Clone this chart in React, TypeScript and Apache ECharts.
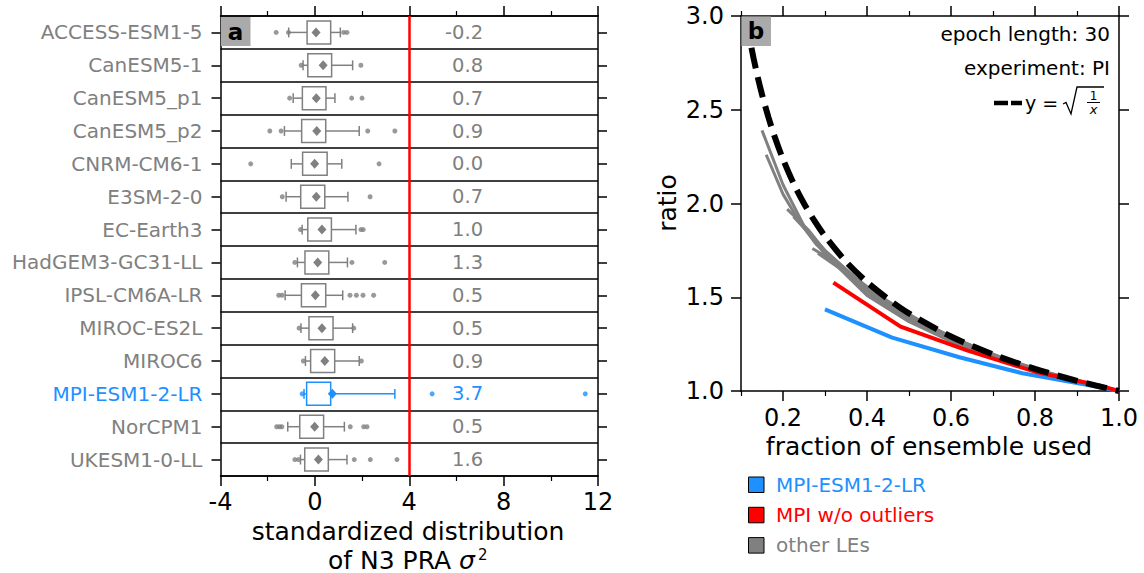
import React, { useEffect, useRef } from 'react';
import * as echarts from 'echarts';

// ---------- Panel a data ----------
const models = [
  'ACCESS-ESM1-5', 'CanESM5-1', 'CanESM5_p1', 'CanESM5_p2', 'CNRM-CM6-1', 'E3SM-2-0', 'EC-Earth3',
  'HadGEM3-GC31-LL', 'IPSL-CM6A-LR', 'MIROC-ES2L', 'MIROC6', 'MPI-ESM1-2-LR', 'NorCPM1', 'UKESM1-0-LL',
];
const highlightModel = 'MPI-ESM1-2-LR';
const whiskerLow = [-1.11, -0.5, -0.92, -1.29, -1.0, -1.22, -0.54, -0.74, -1.26, -0.59, -0.4, -0.46, -1.15, -0.61];
const q1 = [-0.33, -0.3, -0.53, -0.56, -0.52, -0.6, -0.3, -0.42, -0.57, -0.25, -0.18, -0.35, -0.64, -0.43];
const means = [0.05, 0.35, 0.06, 0.08, -0.01, 0.06, 0.3, 0.12, 0.02, 0.3, 0.42, 0.74, -0.01, 0.15];
const q3 = [0.67, 0.71, 0.47, 0.46, 0.52, 0.42, 0.7, 0.59, 0.46, 0.77, 0.84, 0.67, 0.37, 0.57];
const whiskerHigh = [1.08, 1.6, 0.85, 1.88, 1.14, 1.4, 1.74, 1.38, 1.18, 1.6, 1.88, 3.39, 1.25, 1.36];
const outliers: number[][] = [
  [-1.64, -1.12, 1.22, 1.36],
  [-0.58, 1.95],
  [-1.07, 1.56, 2.0],
  [-1.91, -1.43, 2.24, 3.39],
  [-2.72, 2.72],
  [-1.38, 2.34],
  [-0.61, 1.95, 2.05],
  [-0.85, 1.57, 2.96],
  [-1.53, -1.39, 1.49, 1.76, 2.04, 2.49],
  [-0.67, 1.65],
  [-0.49, 1.97],
  [-0.54, 4.97, 11.46],
  [-1.62, -1.5, -1.4, 1.5, 2.07, 2.21],
  [-0.85, -0.7, 1.67, 2.35, 3.48],
];
const skill = [-0.2, 0.8, 0.7, 0.9, 0.0, 0.7, 1.0, 1.3, 0.5, 0.5, 0.9, 3.7, 0.5, 1.6];
const thresholdValue = 4;
const xTicksA = { min: -4, max: 12, interval: 4 };

// ---------- Panel b data ----------
const fracMPI = [0.3, 0.46, 0.62, 0.77, 0.92, 1.0];
const ratioMPI = [1.435, 1.285, 1.18, 1.095, 1.035, 1.0];
const fracMPInoOut = [0.32, 0.48, 0.64, 0.8, 0.96, 1.0];
const ratioMPInoOut = [1.578, 1.343, 1.215, 1.103, 1.025, 1.0];
const fracOther: number[][] = [
  [0.15, 0.2, 0.25, 0.3, 0.4, 0.5, 0.6, 0.7, 0.8, 0.9, 1.0],
  [0.16, 0.2, 0.24, 0.28, 0.36, 0.44, 0.52, 0.64, 0.76, 0.88, 1.0],
  [0.21, 0.26, 0.32, 0.42, 0.53, 0.63, 0.74, 0.84, 0.95, 1.0],
  [0.225, 0.3, 0.375, 0.45, 0.525, 0.6, 0.7, 0.8, 0.9, 1.0],
  [0.283, 0.35, 0.43, 0.5, 0.57, 0.71, 0.86, 1.0],
  [0.385, 0.46, 0.54, 0.62, 0.69, 0.77, 0.85, 0.92, 1.0],
  [0.27, 0.33, 0.4, 0.47, 0.53, 0.6, 0.67, 0.73, 0.8, 0.87, 0.93, 1.0],
];
const ratioOther: number[][] = [
  [2.39, 2.1, 1.88, 1.73, 1.51, 1.37, 1.265, 1.18, 1.11, 1.05, 1.0],
  [2.26, 2.05, 1.9, 1.78, 1.6, 1.46, 1.36, 1.24, 1.14, 1.07, 1.0],
  [1.97, 1.86, 1.69, 1.5, 1.36, 1.26, 1.16, 1.09, 1.03, 1.0],
  [1.93, 1.75, 1.6, 1.47, 1.37, 1.28, 1.19, 1.11, 1.05, 1.0],
  [1.735, 1.63, 1.5, 1.4, 1.32, 1.18, 1.07, 1.0],
  [1.54, 1.45, 1.35, 1.26, 1.2, 1.13, 1.08, 1.04, 1.0],
  [1.76, 1.68, 1.55, 1.45, 1.37, 1.29, 1.22, 1.17, 1.12, 1.07, 1.03, 1.0],
];
const fracRef = [0.112, 0.12, 0.13, 0.14, 0.15, 0.165, 0.18, 0.2, 0.225, 0.25, 0.275, 0.3, 0.35, 0.4, 0.45, 0.5, 0.6, 0.7, 0.8, 0.9, 1.0];
const ratioRef = [2.988, 2.887, 2.774, 2.673, 2.582, 2.462, 2.357, 2.236, 2.108, 2.0, 1.907, 1.826, 1.69, 1.581, 1.491, 1.414, 1.291, 1.195, 1.118, 1.054, 1.0];
const xMajorB = [0.2, 0.4, 0.6, 0.8, 1.0];
const xMinorB = [0.1, 0.3, 0.5, 0.7, 0.9];
const legendLabels = ['MPI-ESM1-2-LR', 'MPI w/o outliers', 'other LEs'];

// ---------- style ----------
const FONT = 'DejaVu Sans';
const GRAY = '#808080';
const BLUE = '#1e90ff';
const RED = '#ff0000';
const BLACK = '#000000';
const valueTextX = 7.13;

const axLine = { show: true, onZero: false, lineStyle: { color: BLACK, width: 1.5 } };
const tickStyle = { color: BLACK, width: 1.5 };

function zip(a: number[], b: number[]) {
  return a.map((v, i) => [v, b[i]]);
}

export default function App() {
  const ref = useRef<HTMLDivElement>(null);
  useEffect(() => {
    if (!ref.current) return;
    const chart = echarts.init(ref.current, null, { renderer: 'svg' });

    const colorOf = (i: number) => (models[i] === highlightModel ? BLUE : GRAY);

    const gridA = { left: 220.5, top: 16, width: 377.5, height: 460 };
    const gridB = { left: 741, top: 16, width: 378, height: 375 };

    const option: any = {
      animation: false,
      backgroundColor: '#ffffff',
      textStyle: { fontFamily: FONT },
      grid: [
        { ...gridA, containLabel: false },
        { ...gridB, containLabel: false },
      ],
      xAxis: [
        {
          gridIndex: 0, type: 'value', position: 'bottom', ...xTicksA,
          axisLine: axLine,
          axisTick: { show: true, length: 10, lineStyle: tickStyle },
          minorTick: { show: true, splitNumber: 2, length: 5, lineStyle: { color: BLACK, width: 1.2 } },
          axisLabel: { color: BLACK, fontSize: 24, fontFamily: FONT, margin: 14 },
          splitLine: { show: false },
        },
        {
          gridIndex: 0, type: 'value', position: 'top', ...xTicksA,
          axisLine: axLine,
          axisTick: { show: true, length: 10, lineStyle: tickStyle },
          minorTick: { show: true, splitNumber: 2, length: 5, lineStyle: { color: BLACK, width: 1.2 } },
          axisLabel: { show: false },
          splitLine: { show: false },
        },
        {
          gridIndex: 1, type: 'value', position: 'bottom', min: 0.1, max: 1.0,
          axisLine: axLine,
          axisTick: { show: true, length: 10, lineStyle: tickStyle, customValues: xMajorB },
          axisLabel: { color: BLACK, fontSize: 24, fontFamily: FONT, margin: 15, customValues: xMajorB, formatter: (v: number) => v.toFixed(1) },
          splitLine: { show: false },
        },
        {
          gridIndex: 1, type: 'value', position: 'top', min: 0.1, max: 1.0,
          axisLine: axLine,
          axisTick: { show: true, length: 10, lineStyle: tickStyle, customValues: xMajorB },
          axisLabel: { show: false },
          splitLine: { show: false },
        },
        {
          gridIndex: 1, type: 'value', position: 'bottom', min: 0.1, max: 1.0,
          axisLine: { show: false },
          axisTick: { show: true, length: 5, lineStyle: { color: BLACK, width: 1.2 }, customValues: xMinorB },
          axisLabel: { show: false },
          splitLine: { show: false },
        },
        {
          gridIndex: 1, type: 'value', position: 'top', min: 0.1, max: 1.0,
          axisLine: { show: false },
          axisTick: { show: true, length: 5, lineStyle: { color: BLACK, width: 1.2 }, customValues: xMinorB },
          axisLabel: { show: false },
          splitLine: { show: false },
        },
      ],
      yAxis: [
        {
          gridIndex: 0, type: 'category', data: models, inverse: true, position: 'left',
          axisLine: axLine,
          axisTick: { show: true, alignWithLabel: true, length: 9, interval: 0, lineStyle: tickStyle },
          axisLabel: {
            interval: 0, margin: 18,
            formatter: (v: string) => (v === highlightModel ? `{hl|${v}}` : `{nm|${v}}`),
            rich: {
              hl: { color: BLUE, fontSize: 20, fontFamily: FONT },
              nm: { color: GRAY, fontSize: 20, fontFamily: FONT },
            },
          },
          splitLine: { show: true, interval: 0, lineStyle: { color: BLACK, width: 1.5 } },
        },
        {
          gridIndex: 0, type: 'category', data: models, inverse: true, position: 'right',
          axisLine: axLine,
          axisTick: { show: true, alignWithLabel: true, length: 9, interval: 0, lineStyle: tickStyle },
          axisLabel: { show: false },
          splitLine: { show: false },
        },
        {
          gridIndex: 1, type: 'value', position: 'left', min: 1, max: 3, interval: 0.5,
          axisLine: axLine,
          axisTick: { show: true, length: 10, lineStyle: tickStyle },
          axisLabel: { color: BLACK, fontSize: 24, fontFamily: FONT, margin: 17, formatter: (v: number) => v.toFixed(1) },
          splitLine: { show: false },
        },
        {
          gridIndex: 1, type: 'value', position: 'right', min: 1, max: 3, interval: 0.5,
          axisLine: axLine,
          axisTick: { show: true, length: 10, lineStyle: tickStyle },
          axisLabel: { show: false },
          splitLine: { show: false },
        },
      ],
      series: [
        // boxes
        {
          type: 'custom', xAxisIndex: 0, yAxisIndex: 0,
          data: models.map((_, i) => [i, whiskerLow[i], q1[i], means[i], q3[i], whiskerHigh[i]]),
          encode: { x: [1, 2, 3, 4, 5], y: 0 },
          renderItem: (params: any, api: any) => {
            const idx = api.value(0);
            const color = colorOf(idx);
            const px = (v: number) => api.coord([v, idx])[0];
            const y = api.coord([0, idx])[1];
            const band = api.size([0, 1])[1];
            const bh = band * 0.7;
            const ch = band * 0.3;
            const xLo = px(api.value(1));
            const xQ1 = px(api.value(2));
            const xM = px(api.value(3));
            const xQ3 = px(api.value(4));
            const xHi = px(api.value(5));
            const st = { stroke: color, lineWidth: 1.5, fill: null };
            return {
              type: 'group',
              children: [
                { type: 'line', shape: { x1: xLo, y1: y, x2: xQ1, y2: y }, style: st },
                { type: 'line', shape: { x1: xQ3, y1: y, x2: xHi, y2: y }, style: st },
                { type: 'line', shape: { x1: xLo, y1: y - ch / 2, x2: xLo, y2: y + ch / 2 }, style: st },
                { type: 'line', shape: { x1: xHi, y1: y - ch / 2, x2: xHi, y2: y + ch / 2 }, style: st },
                { type: 'rect', shape: { x: xQ1, y: y - bh / 2, width: xQ3 - xQ1, height: bh }, style: { stroke: color, lineWidth: 1.5, fill: '#ffffff' } },
                { type: 'polygon', shape: { points: [[xM, y - 5], [xM + 4.5, y], [xM, y + 5], [xM - 4.5, y]] }, style: { fill: color } },
              ],
            };
          },
          z: 2,
        },
        // outliers + threshold line
        {
          type: 'scatter', xAxisIndex: 0, yAxisIndex: 0,
          data: outliers.flatMap((arr, i) => arr.map((v) => [v, i])),
          symbol: 'circle', symbolSize: 5,
          itemStyle: { color: (p: any) => colorOf(p.data[1]) },
          markLine: {
            silent: true, symbol: ['none', 'none'],
            label: { show: false },
            lineStyle: { color: RED, width: 2.5, type: 'solid' },
            data: [{ xAxis: thresholdValue }],
          },
          z: 3,
        },
        // value texts
        {
          type: 'custom', xAxisIndex: 0, yAxisIndex: 0,
          data: models.map((_, i) => [valueTextX, i, skill[i]]),
          encode: { x: 0, y: 1 },
          renderItem: (params: any, api: any) => {
            const idx = api.value(1);
            const p = api.coord([api.value(0), idx]);
            return {
              type: 'text', x: p[0], y: p[1],
              style: {
                text: Number(api.value(2)).toFixed(1), fill: colorOf(idx),
                fontSize: 19.5, fontFamily: FONT, align: 'right', verticalAlign: 'middle',
              },
            };
          },
          z: 3,
        },
        // panel b
        ...fracOther.map((f, k) => ({
          type: 'line', xAxisIndex: 2, yAxisIndex: 2, data: zip(f, ratioOther[k]),
          symbol: 'none', lineStyle: { color: GRAY, width: 3 }, z: 2,
        })),
        {
          type: 'line', xAxisIndex: 2, yAxisIndex: 2, data: zip(fracMPI, ratioMPI),
          symbol: 'none', lineStyle: { color: BLUE, width: 4 }, z: 3,
        },
        {
          type: 'line', xAxisIndex: 2, yAxisIndex: 2, data: zip(fracMPInoOut, ratioMPInoOut),
          symbol: 'none', lineStyle: { color: RED, width: 4 }, z: 4,
        },
        {
          type: 'line', xAxisIndex: 2, yAxisIndex: 2, data: zip(fracRef, ratioRef),
          symbol: 'none', smooth: 0.3, lineStyle: { color: BLACK, width: 6, type: [21, 9], cap: 'butt' }, z: 5,
        },
      ],
      graphic: [
        { type: 'rect', z: 100, shape: { x: 221, y: 17, width: 29.5, height: 29 }, style: { fill: '#aaaaaa' } },
        { type: 'text', z: 101, x: 235.5, y: 31.5, style: { text: 'a', fontSize: 23, fontWeight: 'bold', fontFamily: FONT, fill: BLACK, align: 'center', verticalAlign: 'middle' } },
        { type: 'rect', z: 100, shape: { x: 741.5, y: 16.5, width: 29.5, height: 29.5 }, style: { fill: '#aaaaaa' } },
        { type: 'text', z: 101, x: 756, y: 31, style: { text: 'b', fontSize: 23, fontWeight: 'bold', fontFamily: FONT, fill: BLACK, align: 'center', verticalAlign: 'middle' } },
        { type: 'text', x: 408, y: 531, style: { text: 'standardized distribution', fontSize: 25, fontFamily: FONT, fill: BLACK, align: 'center', verticalAlign: 'middle' } },
        {
          type: 'text', x: 328, y: 560,
          style: {
            text: '{n|of N3 PRA }{i|σ}', align: 'left', verticalAlign: 'middle',
            rich: {
              n: { fontSize: 25, fontFamily: FONT, fill: BLACK },
              i: { fontSize: 25, fontFamily: FONT, fontStyle: 'italic', fill: BLACK },
            },
          },
        },
        { type: 'text', x: 478, y: 555, style: { text: '2', fontSize: 15, fontFamily: FONT, fill: BLACK, align: 'left', verticalAlign: 'middle' } },
        { type: 'text', x: 929, y: 446, style: { text: 'fraction of ensemble used', fontSize: 25, fontFamily: FONT, fill: BLACK, align: 'center', verticalAlign: 'middle' } },
        { type: 'text', x: 667, y: 203, rotation: Math.PI / 2, style: { text: 'ratio', fontSize: 25, fontFamily: FONT, fill: BLACK, align: 'center', verticalAlign: 'middle' } },
        { type: 'text', x: 1110, y: 34, style: { text: 'epoch length: 30', fontSize: 20, fontFamily: FONT, fill: BLACK, align: 'right', verticalAlign: 'middle' } },
        { type: 'text', x: 1110, y: 68, style: { text: 'experiment: PI', fontSize: 20, fontFamily: FONT, fill: BLACK, align: 'right', verticalAlign: 'middle' } },
        { type: 'line', shape: { x1: 994, y1: 103, x2: 1008, y2: 103 }, style: { stroke: BLACK, lineWidth: 4.5 } },
        { type: 'line', shape: { x1: 1011, y1: 103, x2: 1022, y2: 103 }, style: { stroke: BLACK, lineWidth: 4.5 } },
        { type: 'text', x: 1025, y: 103, style: { text: 'y = ', fontSize: 19, fontFamily: FONT, fill: BLACK, align: 'left', verticalAlign: 'middle' } },
        { type: 'polyline', shape: { points: [[1063, 104], [1066, 102.5], [1071, 114], [1077, 87], [1104, 87]] }, style: { stroke: BLACK, lineWidth: 1.3, fill: null } },
        { type: 'text', x: 1093.5, y: 95.5, style: { text: '1', fontSize: 12, fontFamily: FONT, fill: BLACK, align: 'center', verticalAlign: 'middle' } },
        { type: 'line', shape: { x1: 1087, y1: 102.5, x2: 1100, y2: 102.5 }, style: { stroke: BLACK, lineWidth: 1 } },
        { type: 'text', x: 1093.5, y: 109.5, style: { text: 'x', fontSize: 13, fontStyle: 'italic', fontFamily: FONT, fill: BLACK, align: 'center', verticalAlign: 'middle' } },
        ...[BLUE, RED, GRAY].flatMap((c, k) => [
          { type: 'rect', shape: { x: 748.5, y: 477 + k * 30.3, width: 15.5, height: 15.5 }, style: { fill: c, stroke: BLACK, lineWidth: 1 } },
          { type: 'text', x: 776, y: 484.5 + k * 30.3, style: { text: legendLabels[k], fontSize: 20, fontFamily: FONT, fill: c, align: 'left', verticalAlign: 'middle' } },
        ]),
      ],
    };

    chart.setOption(option);
    return () => chart.dispose();
  }, []);

  return <div ref={ref} style={{ position: 'fixed', left: 0, top: 0, width: 1144, height: 573 }} />;
}
